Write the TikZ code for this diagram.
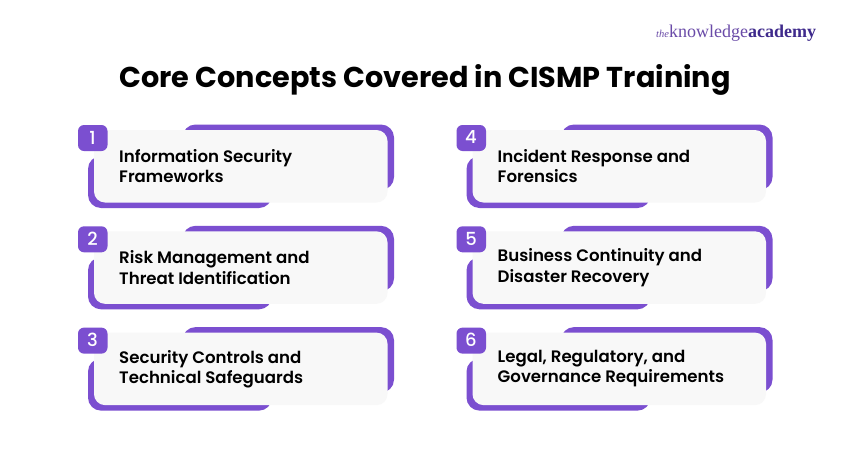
\documentclass[tikz,border=0pt]{standalone}
\usepackage{fontspec}
\setmainfont{Poppins}[BoldFont={Poppins SemiBold}]
\newfontfamily\titlefont{Poppins Bold}
\newfontfamily\digitfont{Poppins Medium}
\newfontfamily\logofont{Liberation Serif}
\definecolor{purp}{HTML}{7B4FD0}
\definecolor{cardgrey}{HTML}{F8F8F8}
\definecolor{logoa}{HTML}{6A4BA8}
\definecolor{logob}{HTML}{3F2A8C}
\tikzset{
  band/.style={fill=purp,draw=none,rounded corners=13pt},
  cardbox/.style={fill=cardgrey,draw=none,rounded corners=11pt},
  badge/.style={fill=purp,draw=none,rounded corners=6pt},
  badgetext/.style={text=white,font=\digitfont\fontsize{18}{18}\selectfont,inner sep=0pt},
  cardtext/.style={anchor=west,align=left,inner sep=0pt,font=\bfseries\fontsize{16.6}{20.2}\selectfont,text=black},
  titletext/.style={inner sep=0pt,font=\titlefont\fontsize{28.7}{30}\selectfont,text=black}
}
\newcommand{\conceptcard}[5]{%
  \begin{scope}[shift={(#1,#2)}]
    \fill[band] (182.5,0.5) rectangle (394,66);
    \fill[band] (88,32) rectangle (272,84);
    \fill[cardbox] (94,6) rectangle (387.5,78.5);
    \fill[badge] (78,1) rectangle (107.5,27);
    \node[badgetext] (n#3) at (92.5,13.5) {#3};
    \node[cardtext] (t#3) at (119,42.3) {#4\\#5};
  \end{scope}}
\begin{document}
\begin{tikzpicture}[x=1pt,y=-1pt]
\useasboundingbox (0,0) rectangle (850,450);
\fill[white] (0,0) rectangle (850,450);
\node[titletext] (title) at (425,79.5) {Core Concepts Covered in CISMP Training};
\node[inner sep=0pt,anchor=west,font=\logofont] (logo) at (656,33) {{\fontsize{10.5}{12}\selectfont\itshape\color{logoa}the}{\fontsize{18}{20}\selectfont\color{logoa}knowledge}{\fontsize{18}{20}\selectfont\bfseries\color{logob}academy}};
\conceptcard{0}{124}{1}{Information Security}{Frameworks}
\conceptcard{0}{225.3}{2}{Risk Management and}{Threat Identification}
\conceptcard{0}{326.6}{3}{Security Controls and}{Technical Safeguards}
\conceptcard{378.5}{124}{4}{Incident Response and}{Forensics}
\conceptcard{378.5}{225.3}{5}{Business Continuity and}{Disaster Recovery}
\conceptcard{378.5}{326.6}{6}{Legal, Regulatory, and}{Governance Requirements}
\end{tikzpicture}
\end{document}
